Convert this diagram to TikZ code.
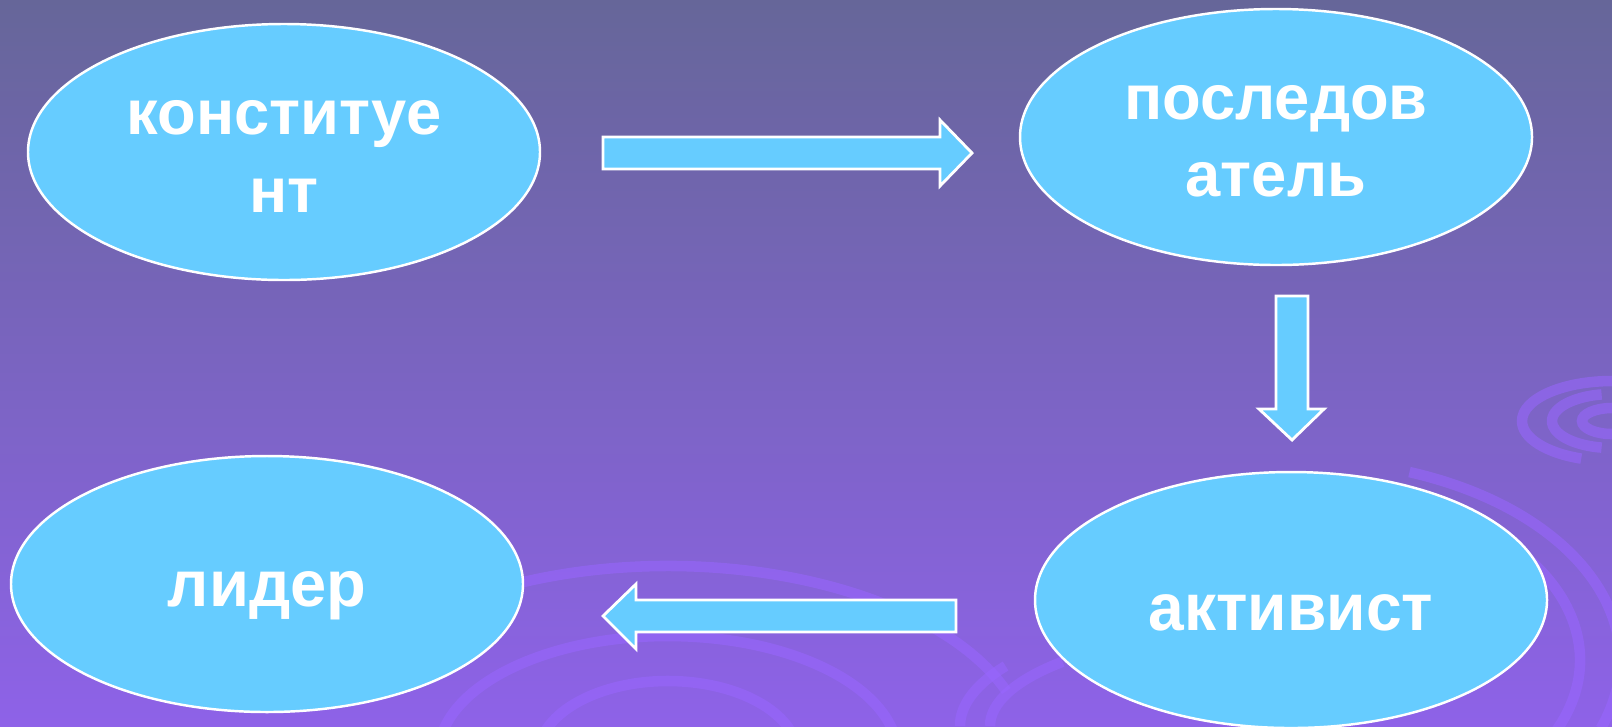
\documentclass[tikz,border=0pt]{standalone}
\usepackage{fontspec}
\setmainfont{Liberation Sans}
\usetikzlibrary{shapes.geometric}

\definecolor{bgtop}{HTML}{666699}
\definecolor{bgmid}{HTML}{7366B0}
\definecolor{bgbot}{HTML}{8E62E8}
\definecolor{skyfill}{HTML}{66CCFF}
\definecolor{swirlc}{HTML}{9966FF}

\begin{document}
\begin{tikzpicture}[
    term/.style={
        ellipse,
        draw=white,
        line width=0.7pt,
        fill=skyfill,
        minimum width=5.12cm,
        minimum height=2.56cm,
        inner sep=0pt,
        align=center,
        text=white,
        font=\fontsize{18}{22}\selectfont\bfseries
    },
    blockarrow/.style={draw=white, line width=0.8pt, fill=skyfill},
    swirl/.style={draw=swirlc, line width=3pt, opacity=0.55}
]

% Fondo
\useasboundingbox (0,0) rectangle (16.12,7.26);
\shade[top color=bgtop, middle color=bgmid, bottom color=bgbot] (0,0) rectangle (16.12,7.26);

% Remolinos del fondo
\draw[swirl] ([shift={(160:3.6 and 1.9)}]6.68,-0.3) arc (160:20:3.6 and 1.9);
\draw[swirl] ([shift={(170:2.3 and 1.2)}]6.68,-0.3) arc (170:10:2.3 and 1.2);
\draw[swirl] ([shift={(170:1.3 and 0.75)}]6.68,-0.3) arc (170:20:1.3 and 0.75);
\draw[swirl] ([shift={(70:3.2 and 2.0)}]13.0,0.66) arc (70:-20:3.2 and 2.0);
\draw[swirl] ([shift={(60:2.8 and 1.75)}]13.0,0.66) arc (60:-30:2.8 and 1.75);
\draw[swirl] ([shift={(150:3.4 and 1.2)}]13.0,0) arc (150:180:3.4 and 1.2);
\draw[swirl] ([shift={(140:3.1 and 1.0)}]13.0,0) arc (140:180:3.1 and 1.0);
\draw[swirl] ([shift={(90:0.9 and 0.4)}]16.12,3.05) arc (90:250:0.9 and 0.4);
\draw[swirl] ([shift={(100:0.6 and 0.27)}]16.12,3.05) arc (100:260:0.6 and 0.27);
\draw[swirl] ([shift={(90:0.3 and 0.13)}]16.12,3.05) arc (90:270:0.3 and 0.13);

% Elipses
\node[term] (konst) at (2.84,5.74) {\rule{0pt}{0.43cm}конституе\\нт};
\node[term] (posled) at (12.76,5.89) {\rule{0pt}{0.43cm}последов\\атель};
\node[term, text height=0.6cm, text depth=0pt] (aktiv) at (12.91,1.26)
    {\scalebox{0.96}[1]{\fontsize{19}{22}\selectfont активист}};
\node[term, font=\fontsize{18.5}{22}\selectfont\bfseries, text height=0.44cm, text depth=0pt]
    (lider) at (2.67,1.42) {лидер};

% Flechas de bloque
\draw[blockarrow] (6.03,5.89) -- (9.40,5.89) -- (9.40,6.06) -- (9.72,5.73)
    -- (9.40,5.40) -- (9.40,5.57) -- (6.03,5.57) -- cycle;
\draw[blockarrow] (12.76,4.30) -- (13.08,4.30) -- (13.08,3.17) -- (13.24,3.17)
    -- (12.92,2.86) -- (12.59,3.17) -- (12.76,3.17) -- cycle;
\draw[blockarrow] (9.56,1.26) -- (6.36,1.26) -- (6.36,1.42) -- (6.03,1.10)
    -- (6.36,0.77) -- (6.36,0.94) -- (9.56,0.94) -- cycle;

\end{tikzpicture}
\end{document}
